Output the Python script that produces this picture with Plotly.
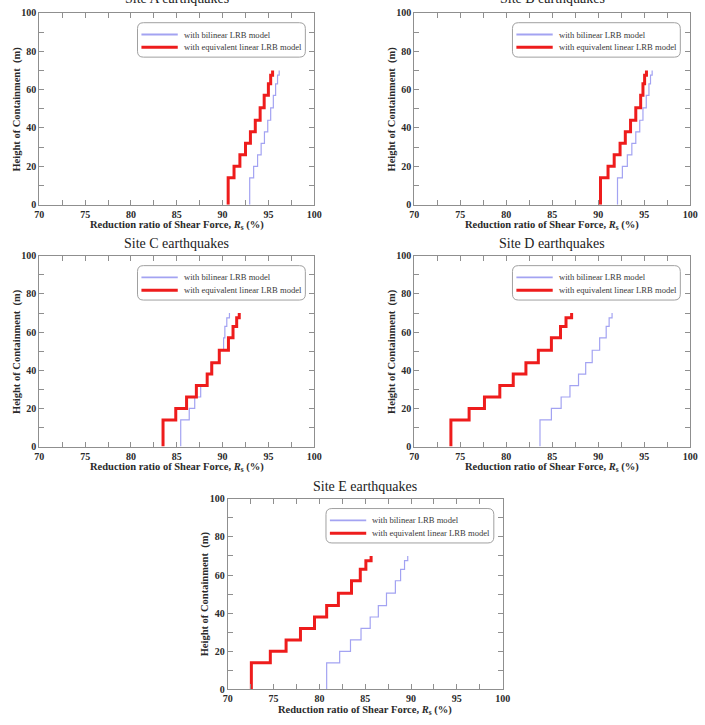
import plotly.graph_objects as go

W, H = 705, 725

# Heights of step breaks (m)
heights = [0, 14, 20, 26, 32, 38, 44, 50.5, 57, 63, 67.5, 70]

# Reduction ratio (%) per segment, bilinear vs equivalent linear LRB model
siteA_bilinear = [92.96, 93.39, 93.82, 94.21, 94.57, 94.93, 95.25, 95.54, 95.79, 96.0, 96.18]
siteA_equiv = [90.61, 91.25, 91.89, 92.5, 93.04, 93.57, 94.1, 94.54, 95.0, 95.25, 95.46]

siteB_bilinear = [92.1, 92.63, 93.17, 93.66, 94.09, 94.52, 94.87, 95.23, 95.52, 95.69, 95.87]
siteB_equiv = [90.25, 91.07, 91.74, 92.38, 92.95, 93.52, 94.09, 94.62, 94.87, 95.05, 95.25]

siteC_bilinear = [85.43, 86.36, 86.96, 87.61, 88.32, 88.75, 89.64, 90.11, 90.25, 90.46, 90.75]
siteC_equiv = [83.5, 84.89, 86.07, 87.14, 88.32, 88.82, 89.64, 90.64, 91.14, 91.54, 91.82]

siteD_bilinear = [83.67, 84.91, 85.97, 86.93, 87.86, 88.64, 89.35, 90.16, 90.87, 91.19, 91.51]
siteD_equiv = [73.98, 75.96, 77.63, 79.3, 80.76, 82.14, 83.49, 84.91, 85.9, 86.5, 87.11]

siteE_bilinear = [80.79, 82.21, 83.39, 84.54, 85.54, 86.43, 87.32, 88.29, 88.86, 89.29, 89.64]
siteE_equiv = [72.57, 74.64, 76.36, 77.93, 79.46, 80.79, 82.07, 83.5, 84.46, 85.07, 85.64]

titles = ["Site A earthquakes", "Site B earthquakes", "Site C earthquakes",
          "Site D earthquakes", "Site E earthquakes"]
series_names = ["with bilinear LRB model", "with equivalent linear LRB model"]
x_ticks = [70, 75, 80, 85, 90, 95, 100]
y_ticks = [0, 20, 40, 60, 80, 100]

data = [
    (siteA_bilinear, siteA_equiv),
    (siteB_bilinear, siteB_equiv),
    (siteC_bilinear, siteC_equiv),
    (siteD_bilinear, siteD_equiv),
    (siteE_bilinear, siteE_equiv),
]

# panel pixel boxes: (left, right, top, bottom)
boxes = [
    (35, 315, 7, 202),
    (417, 698, 7, 202),
    (35, 315, 254, 448),
    (417, 698, 254, 448),
    (227, 507, 501, 695),
]

SERIF = "Liberation Serif, Times New Roman, serif"
FRAME = "#8f8f8f"
BLUE = "#a3a3f2"
RED = "#ee1c1c"
TXT = "#2a2a2a"

fig = go.Figure()
layout = dict(
    width=W, height=H, margin=dict(l=0, r=0, t=0, b=0),
    paper_bgcolor="white", plot_bgcolor="white",
    showlegend=False,
)
annotations = []
shapes = []


def px(x):
    return x / W


def py(y):
    return 1 - y / H


styles = [(BLUE, 1.2), (RED, 3)]

for i, ((bil, equ), (l, r, t, b)) in enumerate(zip(data, boxes)):
    k = "" if i == 0 else str(i + 1)
    xa = "xaxis" + k
    ya = "yaxis" + k
    for vals, name, (color, width) in zip((bil, equ), series_names, styles):
        fig.add_trace(go.Scatter(
            x=vals + [vals[-1]], y=heights, mode="lines",
            line=dict(color=color, width=width, shape="vh"),
            name=name, xaxis="x" + k, yaxis="y" + k,
        ))
    axis_common = dict(
        showline=True, linecolor=FRAME, linewidth=1, mirror="allticks",
        ticks="inside", ticklen=5, tickcolor=FRAME, tickwidth=1,
        showgrid=False, zeroline=False,
        tickfont=dict(family=SERIF, size=10, color=TXT, weight="bold"),
    )
    layout[xa] = dict(axis_common, domain=[px(l), px(r)], range=[70, 100],
                      tickvals=x_ticks, anchor="y" + k,
                      minor=dict(dtick=2.5, ticklen=5, tickcolor=FRAME, ticks="inside"))
    layout[ya] = dict(axis_common, domain=[py(b), py(t)], range=[0, 100],
                      tickvals=y_ticks, anchor="x" + k,
                      minor=dict(dtick=10, ticklen=5, tickcolor=FRAME, ticks="inside"))

    # legend box (rounded) with entries
    bl, bt = l + 100, t + 10
    br, bb = bl + 171, bt + 35
    rad = 6
    x0, x1, y0, y1 = px(bl), px(br), py(bb), py(bt)
    rx, ry = rad / W, rad / H
    path = (f"M{x0+rx},{y1} L{x1-rx},{y1} Q{x1},{y1} {x1},{y1-ry} "
            f"L{x1},{y0+ry} Q{x1},{y0} {x1-rx},{y0} L{x0+rx},{y0} "
            f"Q{x0},{y0} {x0},{y0+ry} L{x0},{y1-ry} Q{x0},{y1} {x0+rx},{y1} Z")
    shapes.append(dict(type="path", path=path, xref="paper", yref="paper",
                       line=dict(color="#a0a0a0", width=1), fillcolor="white",
                       layer="above"))
    for j, (name, (color, width)) in enumerate(zip(series_names, styles)):
        ey = bt + 12 + j * 13
        shapes.append(dict(type="line", xref="paper", yref="paper",
                           x0=px(bl + 4), x1=px(bl + 41), y0=py(ey), y1=py(ey),
                           line=dict(color=color, width=max(width, 1.8)), layer="above"))
        annotations.append(dict(text=name, x=px(bl + 45), y=py(ey), xref="paper", yref="paper",
                                showarrow=False, xanchor="left", yanchor="middle",
                                font=dict(family=SERIF, size=8.6, color="#3a3a3a")))

    cx = (l + r) / 2
    cy = (t + b) / 2
    # subplot title
    toff = 15 if i < 2 else 12
    annotations.append(dict(text=titles[i], x=px(cx), y=py(t - toff), xref="paper", yref="paper",
                            showarrow=False, xanchor="center", yanchor="middle",
                            font=dict(family=SERIF, size=14, color="#222222")))
    # x title
    annotations.append(dict(text="Reduction ratio of Shear Force, <i>R</i><sub>s</sub> (%)",
                            x=px(cx), y=py(b + 21.5), xref="paper", yref="paper",
                            showarrow=False, xanchor="center", yanchor="middle",
                            font=dict(family=SERIF, size=10.5, color=TXT, weight="bold")))
    # y title
    annotations.append(dict(text="Height of Containment  (m)",
                            x=px(l - 23), y=py(cy), xref="paper", yref="paper",
                            showarrow=False, xanchor="center", yanchor="middle", textangle=-90,
                            font=dict(family=SERIF, size=10.5, color=TXT, weight="bold")))

layout["annotations"] = annotations
layout["shapes"] = shapes
fig.update_layout(**layout)
fig.write_html("out.html")
